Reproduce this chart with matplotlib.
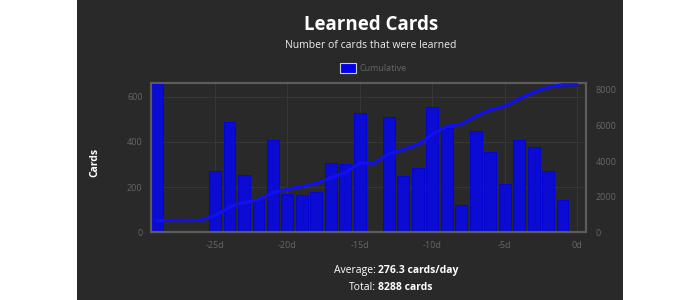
import numpy as np
import matplotlib
matplotlib.use("Agg")
import matplotlib.pyplot as plt
from matplotlib.patches import Rectangle

# ---- data ----
days = list(range(-29, 1))
learned = [656, 5, 5, 0, 269, 486, 254, 149, 408, 171, 166, 180, 308, 302,
           529, 0, 511, 250, 284, 556, 463, 122, 448, 357, 213, 409, 379, 269,
           144, 0]
left_ticks = [0, 200, 400, 600]
right_ticks = [0, 2000, 4000, 6000, 8000]
x_ticks = [-25, -20, -15, -10, -5, 0]
x_ticklabels = ["-25d", "-20d", "-15d", "-10d", "-5d", "0d"]
title = "Learned Cards"
subtitle = "Number of cards that were learned"
legend_label = "Cumulative"
ylabel = "Cards"
avg_label, avg_value = "Average:", "276.3 cards/day"
tot_label, tot_value = "Total:", "8288 cards"

plt.rcParams['font.family'] = ['Open Sans', 'DejaVu Sans']

W, H = 700, 300
fig = plt.figure(figsize=(7, 3), dpi=100, facecolor='white')

def fx(x): return x / W
def fy(y): return 1 - y / H

panel_col = '#292929'
fig.patches.append(Rectangle((fx(77), 0), fx(623) - fx(77), 1,
                             transform=fig.transFigure, facecolor=panel_col,
                             edgecolor='none', zorder=-10))

ax = fig.add_axes([fx(151), fy(232.3), fx(586) - fx(151), fy(83) - fy(232.3)])
ax.set_zorder(1)
ax.set_facecolor(panel_col)
bar_col = '#0b0bd2'
ax.bar(days, learned, width=0.82, color=bar_col, edgecolor='#0000e6',
       linewidth=0.6, zorder=2)
ax.set_xlim(-29.42, 0.62)
ax.set_ylim(0, 660)
ax.set_yticks(left_ticks)
ax.set_xticks(x_ticks)
ax.set_xticklabels(x_ticklabels)
ax.grid(True, color='#363636', linewidth=0.8, zorder=0)
ax.set_axisbelow(True)
tick_col = '#666666'
ax.tick_params(axis='both', length=0, colors=tick_col, labelsize=6.5, pad=6)
for s in ax.spines.values():
    s.set_color('#5c5c5c')
    s.set_linewidth(1.5)

ax2 = ax.twinx()
ax2.set_zorder(2)
ax2.plot(days, np.cumsum(learned), color='#1010f0', linewidth=2.3,
         solid_capstyle='round', solid_joinstyle='round', zorder=3)
ax2.set_ylim(0, 8390)
ax2.set_yticks(right_ticks)
ax2.tick_params(axis='y', length=0, colors=tick_col, labelsize=6.5, pad=7)
for s in ax2.spines.values():
    s.set_color('#5c5c5c')
    s.set_linewidth(1.5)
ax2.patch.set_visible(False)

fig.text(fx(371), fy(25), title, ha='center', va='center', color='white',
         fontsize=13.5, fontweight='bold')
fig.text(fx(371), fy(45), subtitle, ha='center', va='center', color='#eeeeee',
         fontsize=7.5)

fig.patches.append(Rectangle((fx(340), fy(73.3)), fx(356) - fx(340),
                             fy(63.3) - fy(73.3), transform=fig.transFigure,
                             facecolor='#0000ee', edgecolor='#cccccc',
                             linewidth=0.8, zorder=3))
fig.text(fx(360), fy(68.5), legend_label, ha='left', va='center',
         color='#666666', fontsize=6.5)

fig.text(fx(95), fy(162), ylabel, ha='center', va='center', color='white',
         fontsize=7.5, fontweight='bold', rotation=90)

fig.text(fx(375.5), fy(270), avg_label, ha='right', va='center',
         color='white', fontsize=7.5)
fig.text(fx(377.5), fy(270), avg_value, ha='left', va='center',
         color='white', fontsize=7.5, fontweight='bold')
fig.text(fx(375.5), fy(287.5), tot_label, ha='right', va='center',
         color='white', fontsize=7.5)
fig.text(fx(377.5), fy(287.5), tot_value, ha='left', va='center',
         color='white', fontsize=7.5, fontweight='bold')

fig.savefig('out.png', dpi=100, facecolor='white')
